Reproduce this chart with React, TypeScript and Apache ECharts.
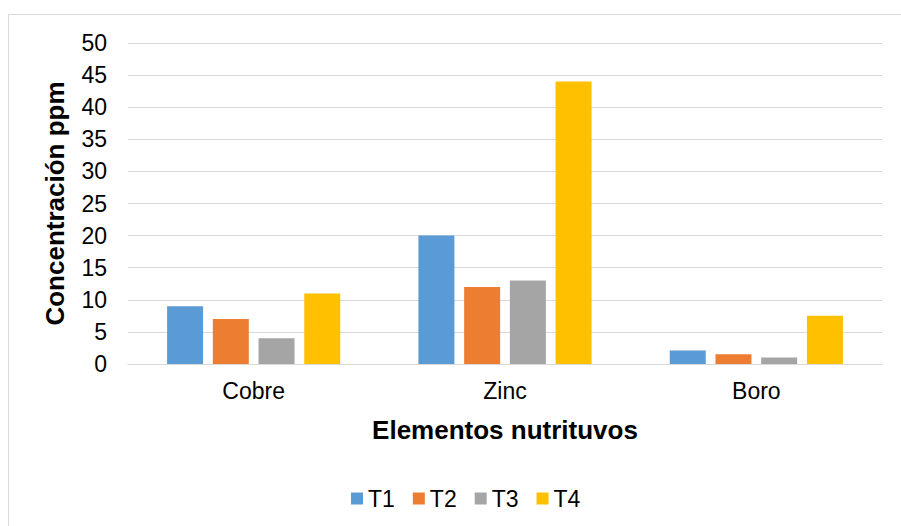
import React, { useEffect, useRef } from "react";
import * as echarts from "echarts";

const categories = ["Cobre", "Zinc", "Boro"];
const seriesNames = ["T1", "T2", "T3", "T4"];
const t1Values = [9, 20, 2.1];
const t2Values = [7, 12, 1.5];
const t3Values = [4, 13, 1.0];
const t4Values = [11, 44, 7.5];
const colors = ["#5B9BD5", "#ED7D31", "#A5A5A5", "#FFC000"];
const yTitle = "Concentración ppm";
const xTitle = "Elementos nutrituvos";

export default function App() {
  const ref = useRef<HTMLDivElement>(null);
  useEffect(() => {
    if (!ref.current) return;
    const chart = echarts.init(ref.current, undefined, { renderer: "svg" });
    const font = "'Liberation Sans', Arial, Helvetica, sans-serif";
    const values = [t1Values, t2Values, t3Values, t4Values];
    chart.setOption({
      animation: false,
      backgroundColor: "#ffffff",
      textStyle: { fontFamily: font },
      graphic: [
        {
          type: "rect",
          shape: { x: 8.5, y: 14.5, width: 900, height: 600 },
          style: { fill: "none", stroke: "#d9d9d9", lineWidth: 1 },
          silent: true,
          z: -10,
        },
      ],
      grid: { left: 128, right: 19, top: 43, bottom: 162, containLabel: false },
      legend: {
        data: seriesNames,
        bottom: 11,
        left: 346,
        itemWidth: 12,
        itemHeight: 12,
        itemGap: 18,
        icon: "rect",
        textStyle: { fontSize: 23, color: "#000", fontFamily: font },
      },
      xAxis: {
        type: "category",
        data: categories,
        name: xTitle,
        nameLocation: "middle",
        nameGap: 53,
        nameTextStyle: { fontSize: 26, fontWeight: "bold", color: "#000", fontFamily: font },
        axisLine: { lineStyle: { color: "#d9d9d9", width: 1 } },
        axisTick: { show: false },
        axisLabel: { fontSize: 23, color: "#000", margin: 15, fontFamily: font },
      },
      yAxis: {
        type: "value",
        min: 0,
        max: 50,
        interval: 5,
        name: yTitle,
        nameLocation: "middle",
        nameGap: 60,
        nameRotate: 90,
        nameTextStyle: { fontSize: 26, fontWeight: "bold", color: "#000", fontFamily: font },
        axisLine: { show: false },
        axisTick: { show: false },
        axisLabel: { fontSize: 23, color: "#000", margin: 21, fontFamily: font },
        splitLine: { lineStyle: { color: "#d9d9d9", width: 1 } },
      },
      series: seriesNames.map((name, i) => ({
        name,
        type: "bar",
        data: values[i],
        barWidth: 36,
        barGap: "27%",
        itemStyle: { color: colors[i] },
      })),
    });
    return () => chart.dispose();
  }, []);
  return (
    <div
      ref={ref}
      style={{ position: "fixed", left: 0, top: 0, width: 901, height: 526 }}
    />
  );
}
